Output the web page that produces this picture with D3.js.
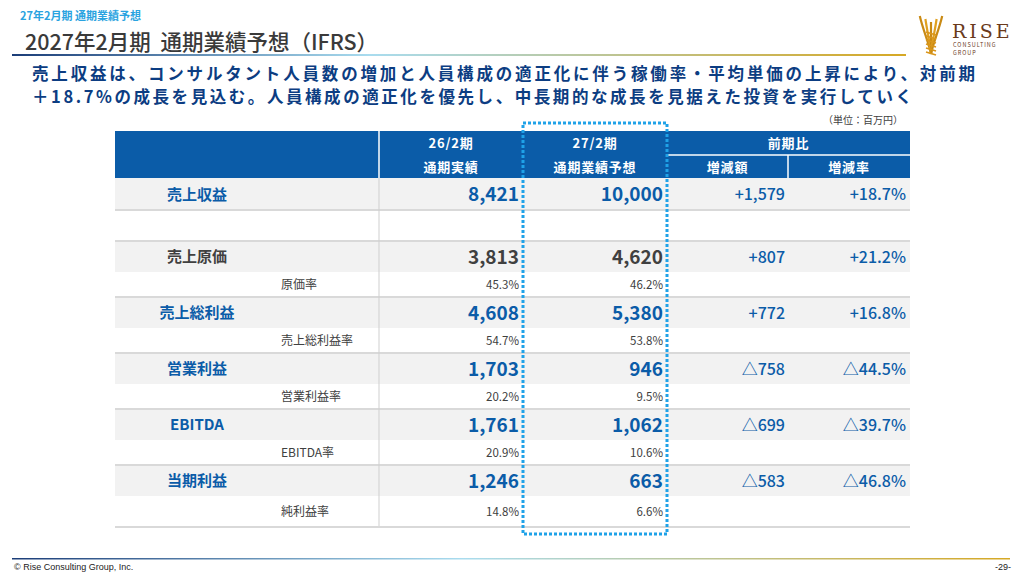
<!DOCTYPE html>
<html>
<head>
<meta charset="utf-8">
<script src="https://d3js.org/d3.v7.min.js"></script>
<style>
    body { margin: 0; background: #fff; }
    svg { display: block; font-family: "Noto Sans CJK JP", "Noto Sans", sans-serif; }
</style>
</head>
<body>
<svg id="chart" width="1024" height="576"></svg>
<script>
    // values (百万円)
    var mainLabels = ["売上収益", "売上原価", "売上総利益", "営業利益", "EBITDA", "当期利益"];
    var fy26 = [8421, 3813, 4608, 1703, 1761, 1246];
    var fy27 = [10000, 4620, 5380, 946, 1062, 663];
    var diffAmt = [1579, 807, 772, -758, -699, -583];
    var diffRate = [18.7, 21.2, 16.8, -44.5, -39.7, -46.8];
    var subLabels = ["", "原価率", "売上総利益率", "営業利益率", "EBITDA率", "純利益率"];
    var subFy26 = [null, 45.3, 54.7, 20.2, 20.9, 14.8];
    var subFy27 = [null, 46.2, 53.8, 9.5, 10.6, 6.6];
    var colKeys = ["label", "fy26", "fy27", "amt", "rate"];

    var blue = "#0b5ca8";
    var gray = "#404040";
    var svg = d3.select("#chart");
    var defs = svg.append("defs");

    function grad(id, stops) {
        var g = defs.append("linearGradient").attr("id", id);
        stops.forEach(function (s) {
            g.append("stop").attr("offset", s[0]).attr("stop-color", s[1]);
        });
    }
    grad("topLine", [["0%", "#1b3d78"], ["40%", "#a9dcef"], ["100%", "#d6a824"]]);
    grad("footLine", [["0%", "#1b3d78"], ["45%", "#a9dcef"], ["100%", "#d6a824"]]);

    // header area
    svg.append("text").attr("x", 20).attr("y", 20)
        .attr("font-size", 11).attr("font-weight", 700).attr("fill", "#2aa3e0")
        .text("27年2月期 通期業績予想");
    svg.append("text").attr("x", 25).attr("y", 50)
        .attr("font-size", 21.5).attr("font-weight", 500).attr("fill", "#3a3a3a")
        .text("2027年2月期\u00a0\u00a0通期業績予想（IFRS）");
    svg.append("rect").attr("x", 12).attr("y", 54).attr("width", 894).attr("height", 2)
        .attr("fill", "url(#topLine)");

    svg.append("text").attr("x", 32).attr("y", 80)
        .attr("font-size", 16.5).attr("font-weight", 700).attr("fill", "#0c3d82")
        .attr("textLength", 943).attr("lengthAdjust", "spacing")
        .text("売上収益は、コンサルタント人員数の増加と人員構成の適正化に伴う稼働率・平均単価の上昇により、対前期");
    svg.append("text").attr("x", 32).attr("y", 103)
        .attr("font-size", 16.5).attr("font-weight", 700).attr("fill", "#0c3d82")
        .attr("textLength", 880).attr("lengthAdjust", "spacing")
        .text("＋18.7%の成長を見込む。人員構成の適正化を優先し、中長期的な成長を見据えた投資を実行していく");
    svg.append("text").attr("x", 903).attr("y", 124).attr("text-anchor", "end")
        .attr("font-size", 10).attr("fill", gray).text("（単位：百万円）");

    // logo
    var logo = svg.append("g").attr("transform", "translate(918,16)");
    [[-8, 0], [-4, 3], [0, 6], [4, 3], [8, 0]].forEach(function (p, i) {
        logo.append("path")
            .attr("d", "M13,38 C" + (13 + p[0] * 0.3) + ",26 " + (13 + p[0]) + ",14 " + (13 + p[0] * 1.4) + "," + p[1])
            .attr("fill", "none").attr("stroke", i % 2 ? "#e0a020" : "#c98a14").attr("stroke-width", 2.2);
    });
    for (var k = 0; k < 6; k++) {
        logo.append("path").attr("d", "M8," + (16 + k * 4) + " L18," + (19 + k * 4))
            .attr("stroke", "#d9961c").attr("stroke-width", 1.6);
    }
    logo.append("text").attr("x", 34).attr("y", 22).attr("font-family", "DejaVu Serif")
        .attr("font-size", 19).attr("fill", "#6a3a1c").attr("letter-spacing", 3).text("RISE");
    logo.append("text").attr("x", 35).attr("y", 31).attr("font-size", 5.5)
        .attr("fill", "#6a3a1c").attr("letter-spacing", 1).text("CONSULTING");
    logo.append("text").attr("x", 35).attr("y", 38.5).attr("font-size", 5.5)
        .attr("fill", "#6a3a1c").attr("letter-spacing", 1).text("GROUP");

    // table columns
    var colLeft = d3.scaleOrdinal().domain(colKeys).range([115, 379, 523, 667, 788]);
    var colRight = d3.scaleOrdinal().domain(colKeys).range([379, 523, 667, 788, 910]);
    var valueEnd = d3.scaleOrdinal().domain(colKeys).range([0, 519, 663, 785, 906]);

    var tableLeft = colLeft("label"), tableRight = colRight("rate");
    var headTop = 131, headBottom = 178;

    // header
    svg.append("rect").attr("x", tableLeft).attr("y", headTop)
        .attr("width", tableRight - tableLeft).attr("height", headBottom - headTop).attr("fill", blue);
    svg.append("line").attr("x1", colLeft("fy26")).attr("x2", colLeft("fy26"))
        .attr("y1", headTop).attr("y2", headBottom).attr("stroke", "#fff").attr("stroke-width", 1.5);
    svg.append("line").attr("x1", colLeft("amt")).attr("x2", tableRight)
        .attr("y1", 155).attr("y2", 155).attr("stroke", "#fff").attr("stroke-width", 1.5);
    svg.append("line").attr("x1", colLeft("rate")).attr("x2", colLeft("rate"))
        .attr("y1", 155).attr("y2", headBottom).attr("stroke", "#fff").attr("stroke-width", 1.5);

    function mid(key) { return (colLeft(key) + colRight(key)) / 2; }
    var headTexts = [
        [mid("fy26"), 148, "26/2期"], [mid("fy26"), 172, "通期実績"],
        [mid("fy27"), 148, "27/2期"], [mid("fy27"), 172, "通期業績予想"],
        [(colLeft("amt") + tableRight) / 2, 148, "前期比"],
        [mid("amt"), 172, "増減額"], [mid("rate"), 172, "増減率"]
    ];
    svg.selectAll(".head").data(headTexts).enter().append("text")
        .attr("x", function (d) { return d[0]; }).attr("y", function (d) { return d[1]; })
        .attr("text-anchor", "middle").attr("font-size", 13).attr("font-weight", 700)
        .attr("letter-spacing", 0.8)
        .attr("fill", "#fff").text(function (d) { return d[2]; });

    // body rows: group i = main row + sub row
    var groupTop = d3.scaleLinear().domain([1, 2]).range([241, 297]);
    function mainTop(i) { return i === 0 ? 178 : groupTop(i); }
    function mainH(i) { return i === 0 ? 32 : 31; }
    function subH(i) { return i === 0 ? 31 : (i === mainLabels.length - 1 ? 31 : 25); }

    var groups = svg.selectAll(".grp").data(mainLabels).enter().append("g").attr("class", "grp");

    groups.append("rect").attr("x", tableLeft).attr("width", tableRight - tableLeft)
        .attr("y", function (d, i) { return mainTop(i); })
        .attr("height", function (d, i) { return mainH(i); }).attr("fill", "#f2f2f2");

    // separators
    var sepY = mainLabels.map(function (d, i) { return mainTop(i) + mainH(i) + subH(i); });
    sepY.splice(0, 0, 210);
    svg.selectAll(".sep").data(sepY).enter().append("rect")
        .attr("x", tableLeft).attr("width", tableRight - tableLeft)
        .attr("y", function (d) { return d - 1; }).attr("height", 2).attr("fill", "#d9d9d9");

    svg.append("line").attr("x1", colLeft("fy26")).attr("x2", colLeft("fy26"))
        .attr("y1", headBottom).attr("y2", sepY[sepY.length - 1] - 1)
        .attr("stroke", "#cfcfcf").attr("stroke-width", 1);

    function rowColor(i) { return i === 1 ? gray : blue; }
    function fmt(v) { return d3.format(",")(v); }
    function fmtDiff(v) { return (v < 0 ? "△" : "+") + d3.format(",")(Math.abs(v)); }
    function fmtRate(v) { return (v < 0 ? "△" : "+") + d3.format(".1f")(Math.abs(v)) + "%"; }
    function mainY(i) { return mainTop(i) + mainH(i) / 2 + 6; }

    groups.append("text").attr("x", 197).attr("y", function (d, i) { return mainY(i) - 0.5; })
        .attr("text-anchor", "middle").attr("font-size", 15).attr("font-weight", 700)
        .attr("fill", function (d, i) { return rowColor(i); }).text(function (d) { return d; });

    var valueCols = [["fy26", fy26, fmt, 19], ["fy27", fy27, fmt, 19],
        ["amt", diffAmt, fmtDiff, 16], ["rate", diffRate, fmtRate, 16]];
    valueCols.forEach(function (c) {
        groups.append("text").attr("x", valueEnd(c[0]))
            .attr("y", function (d, i) { return mainY(i) + (c[3] > 17 ? 1 : 0); })
            .attr("text-anchor", "end").attr("font-size", c[3])
            .attr("font-weight", c[3] > 17 ? 700 : 500)
            .attr("fill", function (d, i) { return c[3] > 17 ? rowColor(i) : blue; })
            .text(function (d, i) { return c[2](c[1][i]); });
    });

    function subY(i) { return mainTop(i) + mainH(i) + subH(i) / 2 + 4; }
    groups.filter(function (d, i) { return subFy26[i] !== null; }).each(function (d) {
        var i = mainLabels.indexOf(d);
        var g = d3.select(this);
        g.append("text").attr("x", 281).attr("y", subY(i)).attr("font-size", 12)
            .attr("fill", gray).text(subLabels[i]);
        g.append("text").attr("x", valueEnd("fy26")).attr("y", subY(i)).attr("text-anchor", "end")
            .attr("font-size", 11.5).attr("fill", gray).text(d3.format(".1f")(subFy26[i]) + "%");
        g.append("text").attr("x", valueEnd("fy27")).attr("y", subY(i)).attr("text-anchor", "end")
            .attr("font-size", 11.5).attr("fill", gray).text(d3.format(".1f")(subFy27[i]) + "%");
    });

    // highlight box for forecast column
    svg.append("rect").attr("x", colLeft("fy27")).attr("y", 123)
        .attr("width", colRight("fy27") - colLeft("fy27")).attr("height", 411)
        .attr("fill", "none").attr("stroke", "#1fa2e8").attr("stroke-width", 3)
        .attr("stroke-dasharray", "3 2");

    // footer
    svg.append("rect").attr("x", 12).attr("y", 558).attr("width", 998).attr("height", 1.5)
        .attr("fill", "url(#footLine)");
    svg.append("text").attr("x", 14).attr("y", 570).attr("font-size", 9)
        .attr("font-family", "Liberation Sans Narrow, Liberation Sans").attr("fill", "#222")
        .text("© Rise Consulting Group, Inc.");
    svg.append("text").attr("x", 1011).attr("y", 570).attr("text-anchor", "end").attr("font-size", 9)
        .attr("font-family", "Liberation Sans Narrow, Liberation Sans").attr("fill", "#222").text("-29-");
</script>
</body>
</html>
